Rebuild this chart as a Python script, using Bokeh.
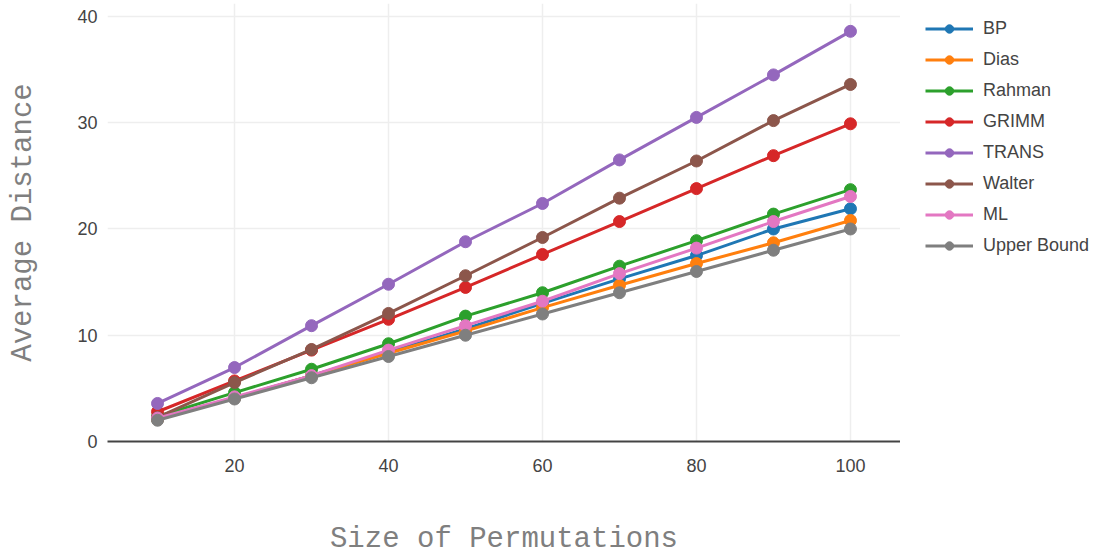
from bokeh.plotting import figure
from bokeh.layouts import row
from bokeh.models import FixedTicker, Legend, LegendItem, Range1d
from bokeh.embed import file_html
from bokeh.resources import INLINE

sizes = [10, 20, 30, 40, 50, 60, 70, 80, 90, 100]
bp = [2.1, 4.1, 6.2, 8.4, 10.6, 13.0, 15.3, 17.5, 20.0, 21.9]
dias = [2.07, 4.1, 6.2, 8.3, 10.4, 12.6, 14.7, 16.75, 18.7, 20.8]
rahman = [2.35, 4.6, 6.8, 9.2, 11.8, 14.0, 16.5, 18.9, 21.4, 23.7]
grimm = [2.8, 5.7, 8.6, 11.5, 14.5, 17.6, 20.7, 23.8, 26.9, 29.9]
trans = [3.58, 6.96, 10.9, 14.8, 18.8, 22.4, 26.5, 30.5, 34.5, 38.6]
walter = [2.26, 5.55, 8.66, 12.05, 15.6, 19.2, 22.9, 26.4, 30.2, 33.6]
ml = [2.2, 4.2, 6.2, 8.6, 10.9, 13.2, 15.8, 18.2, 20.7, 23.06]
upper = [2, 4, 6, 8, 10, 12, 14, 16, 18, 20]

series_names = ["BP", "Dias", "Rahman", "GRIMM", "TRANS", "Walter", "ML", "Upper Bound"]
series_values = [bp, dias, rahman, grimm, trans, walter, ml, upper]
colors = ["#1f77b4", "#ff7f0e", "#2ca02c", "#d62728", "#9467bd", "#8c564b", "#e377c2", "#7f7f7f"]

x_ticks = [20, 40, 60, 80, 100]
y_ticks = [0, 10, 20, 30, 40]

p = figure(width=900, height=558, output_backend="svg", toolbar_location=None,
           x_range=Range1d(3.5, 106.5), y_range=Range1d(0, 41.22),
           min_border_left=107, min_border_right=0, min_border_top=3, min_border_bottom=117,
           x_axis_label="Size of Permutations", y_axis_label="Average Distance")
p.outline_line_color = None
p.background_fill_color = "white"

# legend lives in a narrow companion figure to the right; its copies of the
# series fall outside its ranges, so only the legend shows
pl = figure(width=200, height=558, output_backend="svg", toolbar_location=None,
            x_axis_type=None, y_axis_type=None,
            x_range=Range1d(-20, -10), y_range=Range1d(-20, -10),
            min_border_left=0, min_border_right=0, min_border_top=0, min_border_bottom=0)
pl.outline_line_color = None
pl.xgrid.visible = False
pl.ygrid.visible = False

items = []
for name, vals, c in zip(series_names, series_values, colors):
    p.line(sizes, vals, line_color=c, line_width=3)
    p.scatter(sizes, vals, size=12, fill_color=c, line_color=c)
    l1 = pl.line(sizes, vals, line_color=c, line_width=3)
    l2 = pl.scatter(sizes, vals, size=12, fill_color=c, line_color=c)
    items.append(LegendItem(label=name, renderers=[l1, l2]))

legend = Legend(items=items, location=(25, 185), padding=0, margin=0,
                glyph_width=48, glyph_height=21, label_height=21, spacing=10,
                label_standoff=10, label_text_font="Liberation Sans",
                label_text_font_size="18px", label_text_color="#444444",
                background_fill_alpha=0, border_line_alpha=0)
pl.add_layout(legend, "center")

for ax in (p.xaxis[0], p.yaxis[0]):
    ax.major_tick_line_color = None
    ax.minor_tick_line_color = None
    ax.major_label_text_font = "Liberation Sans"
    ax.major_label_text_font_size = "18px"
    ax.major_label_text_color = "#444444"
    ax.axis_label_text_font = "Liberation Mono"
    ax.axis_label_text_font_size = "29px"
    ax.axis_label_text_font_style = "normal"
    ax.axis_label_text_color = "#7f7f7f"
p.xaxis.ticker = FixedTicker(ticks=x_ticks)
p.yaxis.ticker = FixedTicker(ticks=y_ticks)
p.xaxis.axis_line_color = "#444444"
p.xaxis.axis_line_width = 2
p.xaxis.major_label_standoff = 11
p.xaxis.axis_label_standoff = 48
p.yaxis.axis_line_color = None
p.yaxis.major_label_standoff = 4
p.yaxis.axis_label_standoff = 34
p.yaxis.axis_label_text_line_height = 1.0

p.xgrid.ticker = FixedTicker(ticks=x_ticks)
p.ygrid.ticker = FixedTicker(ticks=[10, 20, 30, 40])
p.xgrid.grid_line_color = "#eeeeee"
p.ygrid.grid_line_color = "#eeeeee"
p.xgrid.grid_line_width = 1.5
p.ygrid.grid_line_width = 1.5

layout = row(p, pl, spacing=0)
open("out.html", "w").write(file_html(layout, INLINE))
